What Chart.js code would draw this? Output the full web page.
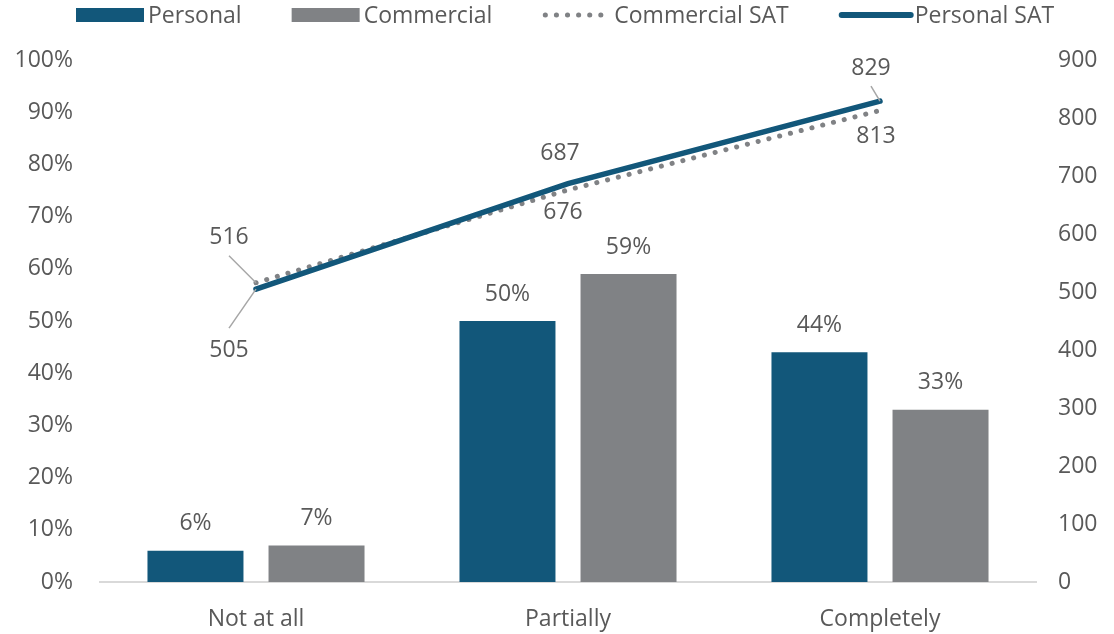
<!DOCTYPE html>
<html>
<head>
<meta charset="utf-8">
<style>
  html, body { margin: 0; padding: 0; background: #fff; }
  #wrap { width: 1114px; height: 634px; }
</style>
<script src="https://cdn.jsdelivr.net/npm/chart.js@4/dist/chart.umd.min.js"></script>
</head>
<body>
<div id="wrap"><canvas id="chart"></canvas></div>
<script>
// data
var categories = ['Not at all', 'Partially', 'Completely'];
var personalShare = [6, 50, 44];
var commercialShare = [7, 59, 33];
var personalSat = [505, 687, 829];
var commercialSat = [516, 676, 813];

var TEAL = '#12577a';
var GRAY = '#808285';
var TEXT = '#595959';
var FONT = "'Open Sans', sans-serif";

// label placement for the SAT lines: [dx, dy, leader]
var personalSatLabelPos = [[-27, 61, true], [-8, -30, false], [-9, -33, true]];
var commercialSatLabelPos = [[-27, -45, true], [-5, 23, false], [-4, 26, false]];

var labelPlugin = {
  id: 'valueLabels',
  afterDatasetsDraw: function (chart) {
    var ctx = chart.ctx;
    ctx.save();
    ctx.font = '23px ' + FONT;
    ctx.fillStyle = TEXT;
    ctx.textAlign = 'center';
    ctx.textBaseline = 'middle';

    // bar labels
    [0, 1].forEach(function (di) {
      var meta = chart.getDatasetMeta(di);
      meta.data.forEach(function (bar, i) {
        var v = chart.data.datasets[di].data[i];
        ctx.fillText(v + '%', bar.x, bar.y - 27);
      });
    });

    // SAT line labels
    [[2, commercialSatLabelPos], [3, personalSatLabelPos]].forEach(function (pair) {
      var meta = chart.getDatasetMeta(pair[0]);
      meta.data.forEach(function (pt, i) {
        var pos = pair[1][i];
        var lx = pt.x + pos[0];
        var ly = pt.y + pos[1];
        if (pos[2]) {
          var sy = ly + (pos[1] < 0 ? 18 : -22);
          ctx.strokeStyle = '#a6a6a6';
          ctx.lineWidth = 1.5;
          ctx.beginPath();
          ctx.moveTo(lx, sy);
          ctx.lineTo(pt.x, pt.y);
          ctx.stroke();
        }
        ctx.fillText(String(chart.data.datasets[pair[0]].data[i]), lx, ly);
      });
    });
    ctx.restore();
  }
};

var legendPlugin = {
  id: 'topLegend',
  afterDraw: function (chart) {
    var ctx = chart.ctx;
    var y = 15;
    var x = 76;
    ctx.save();
    ctx.font = '23px ' + FONT;
    ctx.textBaseline = 'middle';
    ctx.textAlign = 'left';
    var items = [
      { text: 'Personal', kind: 'box', color: TEAL },
      { text: 'Commercial', kind: 'box', color: GRAY },
      { text: 'Commercial SAT', kind: 'dots', color: GRAY },
      { text: 'Personal SAT', kind: 'line', color: TEAL }
    ];
    items.forEach(function (it) {
      if (it.kind === 'box') {
        ctx.fillStyle = it.color;
        ctx.fillRect(x, y - 7, 68, 14);
      } else {
        ctx.strokeStyle = it.color;
        ctx.lineCap = 'round';
        ctx.beginPath();
        if (it.kind === 'dots') {
          ctx.lineWidth = 5;
          ctx.setLineDash([0.1, 11]);
          ctx.moveTo(x + 3, y);
          ctx.lineTo(x + 66, y);
        } else {
          ctx.lineWidth = 6;
          ctx.setLineDash([]);
          ctx.moveTo(x + 3, y);
          ctx.lineTo(x + 72, y);
        }
        ctx.stroke();
        ctx.setLineDash([]);
      }
      var tx = x + (it.kind === 'line' ? 76 : 72);
      ctx.fillStyle = TEXT;
      ctx.fillText(it.text, tx, y + 1);
      x = tx + ctx.measureText(it.text).width + 50;
    });
    ctx.restore();
  }
};

new Chart(document.getElementById('chart'), {
  type: 'bar',
  data: {
    labels: categories,
    datasets: [
      {
        label: 'Personal',
        data: personalShare,
        backgroundColor: TEAL,
        yAxisID: 'y',
        categoryPercentage: 0.776,
        barPercentage: 0.793,
        order: 3
      },
      {
        label: 'Commercial',
        data: commercialShare,
        backgroundColor: GRAY,
        yAxisID: 'y',
        categoryPercentage: 0.776,
        barPercentage: 0.793,
        order: 4
      },
      {
        type: 'line',
        label: 'Commercial SAT',
        data: commercialSat,
        borderColor: GRAY,
        borderWidth: 5,
        borderDash: [0.1, 11],
        borderCapStyle: 'round',
        pointRadius: 0,
        yAxisID: 'y2',
        order: 2
      },
      {
        type: 'line',
        label: 'Personal SAT',
        data: personalSat,
        borderColor: TEAL,
        borderWidth: 5.5,
        borderCapStyle: 'round',
        pointRadius: 0,
        yAxisID: 'y2',
        order: 1
      }
    ]
  },
  options: {
    responsive: true,
    maintainAspectRatio: false,
    animation: false,
    layout: { padding: { top: 60, bottom: 0, left: 0, right: 0 } },
    plugins: {
      legend: { display: false },
      tooltip: { enabled: false }
    },
    scales: {
      x: {
        grid: { display: false },
        border: { display: true, color: '#d9d9d9', width: 2 },
        ticks: { color: TEXT, font: { family: FONT, size: 23 }, padding: 16 },
        afterFit: function (scale) { scale.height = 52; }
      },
      y: {
        position: 'left',
        min: 0,
        max: 100,
        grid: { display: false },
        border: { display: false },
        ticks: {
          stepSize: 10,
          color: TEXT,
          font: { family: FONT, size: 23 },
          padding: 19,
          callback: function (v) { return v + '%'; }
        },
        afterFit: function (scale) { scale.width = 100; }
      },
      y2: {
        position: 'right',
        min: 0,
        max: 900,
        grid: { display: false },
        border: { display: false },
        ticks: {
          stepSize: 100,
          color: TEXT,
          font: { family: FONT, size: 23 },
          padding: 14
        },
        afterFit: function (scale) { scale.width = 78; }
      }
    }
  },
  plugins: [labelPlugin, legendPlugin]
});
</script>
</body>
</html>
